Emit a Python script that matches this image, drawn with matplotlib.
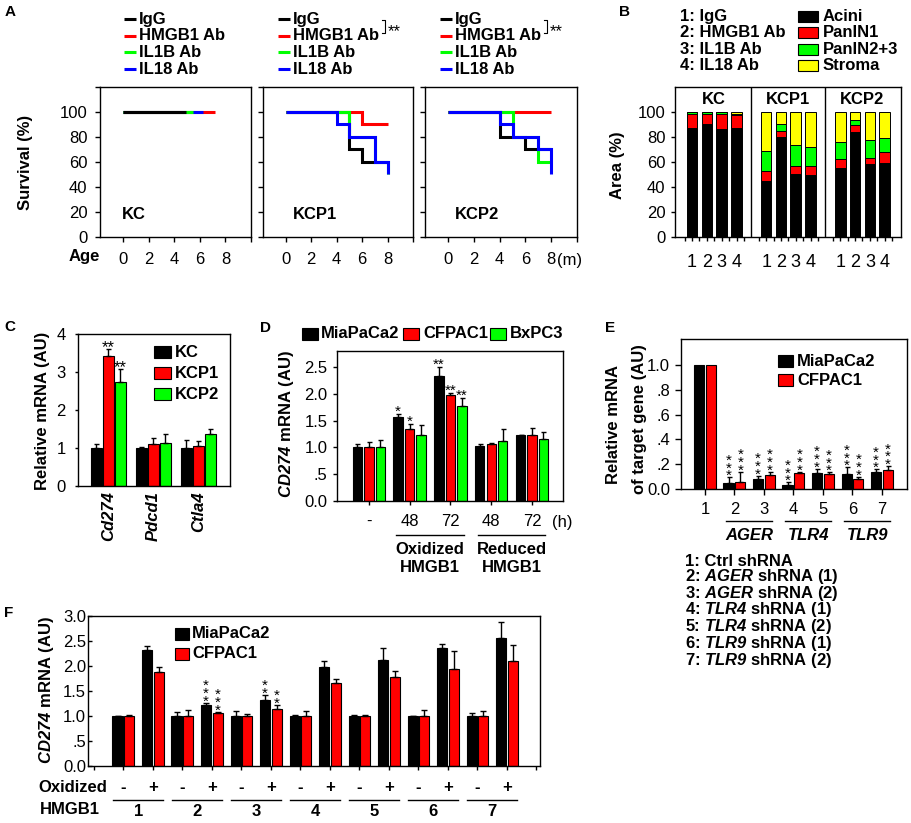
import numpy as np
import matplotlib
matplotlib.use('Agg')
import matplotlib.pyplot as plt
import matplotlib.transforms as mtransforms
from matplotlib.patches import Rectangle

plt.rcParams['font.family'] = ['Liberation Sans', 'DejaVu Sans']
plt.rcParams['font.size'] = 12
plt.rcParams['mathtext.fontset'] = 'custom'
plt.rcParams['mathtext.rm'] = 'Liberation Sans'
plt.rcParams['mathtext.it'] = 'Liberation Sans:italic'
plt.rcParams['mathtext.bf'] = 'Liberation Sans:bold'
plt.rcParams['mathtext.bfit'] = 'Liberation Sans:italic:bold'
plt.rcParams['axes.linewidth'] = 1.0

# ------------------------------------------------------------------ data
# Panel A : Kaplan-Meier steps (time of change, survival %)
surv_series = ['IgG', 'HMGB1 Ab', 'IL1B Ab', 'IL18 Ab']
surv_colors = ['#000000', '#FF0000', '#00FF00', '#0000FF']
age_ticks = [0, 2, 4, 6, 8]
kc_igg_t, kc_igg_s = [0, 4.9], [100, 100]
kc_hmgb1_t, kc_hmgb1_s = [0, 7.15], [100, 100]
kc_il1b_t, kc_il1b_s = [0, 5.45], [100, 100]
kc_il18_t, kc_il18_s = [0, 6.25], [100, 100]
kcp1_igg_t, kcp1_igg_s = [0, 5, 6, 8], [100, 70, 60, 60]
kcp1_hmgb1_t, kcp1_hmgb1_s = [0, 6, 8], [100, 90, 90]
kcp1_il1b_t, kcp1_il1b_s = [0, 5, 7, 8], [100, 80, 60, 50]
kcp1_il18_t, kcp1_il18_s = [0, 4, 5, 7, 8], [100, 90, 80, 60, 50]
kcp2_igg_t, kcp2_igg_s = [0, 4, 6, 8], [100, 80, 70, 70]
kcp2_hmgb1_t, kcp2_hmgb1_s = [0, 8], [100, 100]
kcp2_il1b_t, kcp2_il1b_s = [0, 5, 7, 8], [100, 80, 60, 60]
kcp2_il18_t, kcp2_il18_s = [0, 4, 5, 7, 8], [100, 90, 80, 70, 50]

# Panel B : area (%) stacked
b_groups = ['KC', 'KCP1', 'KCP2']
b_ticklabels = ['1', '2', '3', '4'] * 3
b_treat = ['1: IgG', '2: HMGB1 Ab', '3: IL1B Ab', '4: IL18 Ab']
b_comp = ['Acini', 'PanIN1', 'PanIN2+3', 'Stroma']
b_acini = [87.0, 90.4, 86.4, 87.2, 44.5, 79.7, 50.4, 49.3, 55.2, 84.0, 58.4, 59.2]
b_panin1 = [11.7, 8.0, 12.0, 10.1, 8.0, 5.3, 6.6, 7.7, 7.5, 5.9, 4.8, 8.8]
b_panin23 = [1.3, 1.6, 1.6, 1.4, 16.0, 5.4, 16.3, 15.0, 13.3, 3.4, 14.7, 11.2]
b_stroma = [0.0, 0.0, 0.0, 1.3, 31.5, 9.6, 26.7, 28.0, 24.0, 6.7, 22.1, 20.8]

# Panel C
c_genes = ['Cd274', 'Pdcd1', 'Ctla4']
c_series = ['KC', 'KCP1', 'KCP2']
c_kc = [1.0, 1.0, 1.0]
c_kc_err = [0.10, 0.03, 0.20]
c_kcp1 = [3.42, 1.10, 1.06]
c_kcp1_err = [0.18, 0.17, 0.13]
c_kcp2 = [2.74, 1.14, 1.36]
c_kcp2_err = [0.34, 0.22, 0.14]
c_kcp1_sig = ['**', '', '']
c_kcp2_sig = ['**', '', '']

# Panel D
d_labels = ['-', '48', '72', '48', '72']
d_series = ['MiaPaCa2', 'CFPAC1', 'BxPC3']
d_mia = [1.0, 1.57, 2.34, 1.03, 1.23]
d_mia_err = [0.06, 0.05, 0.17, 0.04, 0.01]
d_cfp = [1.0, 1.34, 1.98, 1.06, 1.23]
d_cfp_err = [0.10, 0.09, 0.03, 0.02, 0.13]
d_bxp = [1.0, 1.24, 1.78, 1.12, 1.16]
d_bxp_err = [0.13, 0.17, 0.15, 0.23, 0.12]
d_mia_sig = ['', '*', '**', '', '']
d_cfp_sig = ['', '*', '**', '', '']
d_bxp_sig = ['', '', '**', '', '']

# Panel E
e_labels = ['1', '2', '3', '4', '5', '6', '7']
e_mia = [1.0, 0.05, 0.08, 0.03, 0.13, 0.12, 0.14]
e_mia_err = [0.0, 0.045, 0.027, 0.024, 0.034, 0.055, 0.02]
e_cfp = [1.0, 0.06, 0.11, 0.13, 0.12, 0.08, 0.15]
e_cfp_err = [0.0, 0.08, 0.03, 0.01, 0.014, 0.02, 0.035]
e_mia_nstar = [0, 3, 3, 3, 3, 3, 3]
e_cfp_nstar = [0, 3, 3, 3, 3, 3, 3]
e_genes = ['AGER', 'TLR4', 'TLR9']
e_key = ['1: Ctrl shRNA', r'2: $\mathbfit{AGER}$ shRNA (1)', r'3: $\mathbfit{AGER}$ shRNA (2)',
         r'4: $\mathbfit{TLR4}$ shRNA (1)', r'5: $\mathbfit{TLR4}$ shRNA (2)',
         r'6: $\mathbfit{TLR9}$ shRNA (1)', r'7: $\mathbfit{TLR9}$ shRNA (2)']

# Panel F
f_labels = ['-', '+'] * 7
f_groups = ['1', '2', '3', '4', '5', '6', '7']
f_mia = [1.0, 2.33, 1.0, 1.23, 1.0, 1.33, 1.0, 1.98, 1.0, 2.13, 1.0, 2.36, 1.0, 2.56]
f_mia_err = [0.01, 0.07, 0.09, 0.03, 0.10, 0.09, 0.03, 0.13, 0.02, 0.24, 0.01, 0.09, 0.07, 0.32]
f_cfp = [1.0, 1.89, 1.0, 1.07, 1.0, 1.15, 1.0, 1.67, 1.0, 1.78, 1.0, 1.95, 1.0, 2.11]
f_cfp_err = [0.03, 0.10, 0.13, 0.02, 0.05, 0.08, 0.10, 0.07, 0.03, 0.12, 0.13, 0.35, 0.11, 0.32]
f_mia_nstar = [0, 0, 0, 3, 0, 2, 0, 0, 0, 0, 0, 0, 0, 0]
f_cfp_nstar = [0, 0, 0, 3, 0, 2, 0, 0, 0, 0, 0, 0, 0, 0]

BLACK, RED, GREEN, YELLOW = '#000000', '#FF0000', '#00FF00', '#FFFF00'

# ------------------------------------------------------------------ figure
W, H = 912, 823
fig = plt.figure(figsize=(W / 100, H / 100), dpi=100)
ov = fig.add_axes([0, 0, 1, 1])
ov.set_xlim(0, W)
ov.set_ylim(H, 0)
ov.axis('off')
ov.set_zorder(5)

FS = 12


def add_ax(x0, y0, x1, y1):
    ax = fig.add_axes([x0 / W, 1 - y1 / H, (x1 - x0) / W, (y1 - y0) / H])
    for s in ax.spines.values():
        s.set_linewidth(1.0)
    return ax


def otext(x, y, s, **kw):
    kw.setdefault('fontsize', FS)
    kw.setdefault('fontweight', 'bold')
    kw.setdefault('va', 'center')
    kw.setdefault('ha', 'left')
    ov.text(x, y, s, **kw)


def patch_key(x, ys, colors, labels, w=15, h=12, gap=4):
    for y, c, l in zip(ys, colors, labels):
        ov.add_patch(Rectangle((x, y - h / 2), w, h, facecolor=c, edgecolor='black', lw=0.8))
        otext(x + w + gap, y, l)


def errbars(ax, x, y, e, capsize=2.0):
    x = np.asarray(x, float); y = np.asarray(y, float); e = np.asarray(e, float)
    m = e > 0
    if m.any():
        ax.errorbar(x[m], y[m], yerr=[np.zeros(m.sum()), e[m]], fmt='none', ecolor='black',
                    elinewidth=1.0, capsize=capsize, capthick=1.0, zorder=3)


def star_text(ax, x, top, s, center_px=7, fs=FS):
    # asterisk string whose ink centre sits center_px above `top`
    em = fs * 100 / 72
    off_px = center_px - 0.58 * em
    ax.annotate(s, (x, top), xytext=(0, off_px * 0.72), textcoords='offset points',
                ha='center', va='baseline', fontsize=fs, annotation_clip=False)


def star_stack(ax, x, top, n, first_px=6, step_px=8.0, fs=11):
    # vertical stack of n asterisks as a single multi-line text
    em = fs * 100 / 72
    ls = (step_px - 0.21 * em) / (0.73 * em)
    off_px = first_px - 0.58 * em
    ax.annotate('\n'.join(['*'] * n), (x, top), xytext=(0, off_px * 0.72),
                textcoords='offset points', ha='center', va='baseline', fontsize=fs,
                linespacing=ls, multialignment='center', annotation_clip=False)


# panel letters
for lab, (x, y) in {'A': (10, 12), 'B': (625, 12), 'C': (10, 327), 'D': (266, 328),
                    'E': (610, 328), 'F': (9, 613)}.items():
    otext(x, y, lab, ha='center', fontsize=11)

# ------------------------------------------------------------------ Panel A
surv_panels = [
    ('KC', [(kc_igg_t, kc_igg_s), (kc_hmgb1_t, kc_hmgb1_s), (kc_il1b_t, kc_il1b_s), (kc_il18_t, kc_il18_s)],
     [1, 3, 2, 0], (100, 87, 251, 237), 0.146, 124),
    ('KCP1', [(kcp1_igg_t, kcp1_igg_s), (kcp1_hmgb1_t, kcp1_hmgb1_s), (kcp1_il1b_t, kcp1_il1b_s),
              (kcp1_il18_t, kcp1_il18_s)], [0, 1, 2, 3], (263, 87, 413, 237), 0.2, 278),
    ('KCP2', [(kcp2_igg_t, kcp2_igg_s), (kcp2_hmgb1_t, kcp2_hmgb1_s), (kcp2_il1b_t, kcp2_il1b_s),
              (kcp2_il18_t, kcp2_il18_s)], [0, 1, 2, 3], (425, 87, 577, 237), 0.197, 440),
]
for i, (name, curves, order, pos, tfrac, lx) in enumerate(surv_panels):
    ax = add_ax(*pos)
    for idx in order:
        t, s = curves[idx]
        ax.plot(t, s, drawstyle='steps-post', color=surv_colors[idx], lw=2.2,
                solid_capstyle='butt', solid_joinstyle='miter')
    ax.set_xlim(-1.8, 10)
    ax.set_ylim(0, 120)
    ax.set_xticks(age_ticks + [10], [str(a) for a in age_ticks] + [''])
    ax.set_yticks(range(0, 121, 20), [str(v) for v in range(0, 101, 20)] + [''])
    ax.tick_params(direction='out', length=3.6, width=1, labelsize=FS)
    ax.tick_params(axis='x', pad=7.5)
    ax.tick_params(axis='y', pad=5.5)
    if i > 0:
        ax.set_yticklabels([])
    ax.text(tfrac, 0.147, name, transform=ax.transAxes, fontweight='bold', fontsize=FS, va='center')
    # legend
    for r, (lab, col) in enumerate(zip(surv_series, surv_colors)):
        y = 19 + r * 16.7
        ov.plot([lx, lx + 12], [y, y], color=col, lw=2.2, solid_capstyle='butt')
        otext(lx + 15, y, lab)
    if i > 0:
        bx = lx + 107
        ov.plot([bx - 3, bx, bx, bx - 3], [20, 20, 33, 33], color='black', lw=0.8)
        otext(bx + 3, 36.5, '**', va='baseline', fontweight='normal')

otext(84, 257, 'Age', ha='center')
otext(570, 260, '(m)', ha='center', fontweight='normal')
otext(26, 162, 'Survival (%)', ha='center', rotation=90)

# ------------------------------------------------------------------ Panel B
axb = add_ax(675, 87, 901, 237)
b_pos = np.array([1, 2, 3, 4, 6, 7, 8, 9, 11, 12, 13, 14], float)
bottom = np.zeros(len(b_pos))
for vals, col in zip([b_acini, b_panin1, b_panin23, b_stroma], [BLACK, RED, GREEN, YELLOW]):
    vals = np.asarray(vals)
    axb.bar(b_pos, vals, width=0.72, bottom=bottom, color=col, edgecolor='black', lw=0.7)
    bottom = bottom + vals
for xv in (5, 10):
    axb.axvline(xv, color='black', lw=1.0)
for gx, g in zip([2.5, 7.5, 12.5], b_groups):
    axb.text(gx, 110, g, ha='center', va='center', fontweight='bold', fontsize=FS)
axb.set_xlim(-0.15, 15.1)
axb.set_ylim(0, 120)
axb.set_xticks(b_pos, b_ticklabels)
axb.set_xticks(np.arange(0.5, 15.0, 1.0), minor=True)
axb.set_yticks(range(0, 101, 20))
axb.tick_params(which='both', direction='out', length=3, width=1)
axb.tick_params(axis='x', labelsize=13, pad=9)
axb.tick_params(axis='y', labelsize=FS, pad=4)
for r, t in enumerate(b_treat):
    otext(680, 16 + r * 16.5, t)
patch_key(798, [16 + r * 16.5 for r in range(4)], [BLACK, RED, GREEN, YELLOW], b_comp, w=20, h=11, gap=5)
otext(618, 165, 'Area (%)', ha='center', rotation=90)

# ------------------------------------------------------------------ Panel C
axc = add_ax(78, 334, 230, 486)
xc = np.arange(len(c_genes))
for k, (vals, errs, sig, col) in enumerate([(c_kc, c_kc_err, None, BLACK),
                                            (c_kcp1, c_kcp1_err, c_kcp1_sig, RED),
                                            (c_kcp2, c_kcp2_err, c_kcp2_sig, GREEN)]):
    x = xc + (k - 1) * 0.267
    axc.bar(x, vals, 0.24, color=col, edgecolor='black', lw=0.8)
    errbars(axc, x, vals, errs, capsize=1.8)
    if sig:
        for xi, v, e, s in zip(x, vals, errs, sig):
            if s:
                star_text(axc, xi, v + e, s, center_px=7)
axc.set_xlim(-0.67, 2.7)
axc.set_ylim(0, 4)
axc.set_yticks(range(0, 5))
axc.set_xticks(xc, c_genes, rotation=90, fontstyle='italic', fontweight='bold')
axc.tick_params(axis='x', length=0, pad=4, labelsize=FS)
axc.tick_params(axis='y', direction='out', length=2.2, width=1, pad=6.5, labelsize=FS)
patch_key(154, [352, 373, 394], [BLACK, RED, GREEN], c_series, w=17, h=12, gap=4)
otext(43, 411, 'Relative mRNA (AU)', ha='center', rotation=90)

# ------------------------------------------------------------------ Panel D
axd = add_ax(337, 351, 563, 501)
xd = np.arange(len(d_labels))
for k, (vals, errs, sig, col) in enumerate([(d_mia, d_mia_err, d_mia_sig, BLACK),
                                            (d_cfp, d_cfp_err, d_cfp_sig, RED),
                                            (d_bxp, d_bxp_err, d_bxp_sig, GREEN)]):
    x = xd + (k - 1) * 0.28
    axd.bar(x, vals, 0.23, color=col, edgecolor='black', lw=0.8)
    errbars(axd, x, vals, errs, capsize=1.8)
    for xi, v, e, s in zip(x, vals, errs, sig):
        if s:
            star_text(axd, xi, v + e, s, center_px=7, fs=11)
axd.set_xlim(-0.78, 4.76)
axd.set_ylim(0, 2.8)
axd.set_yticks([0, 0.5, 1.0, 1.5, 2.0, 2.5], ['0.0', '.5', '1.0', '1.5', '2.0', '2.5'])
axd.set_xticks(xd, d_labels)
axd.tick_params(direction='out', length=3, width=1, labelsize=FS)
axd.tick_params(axis='x', pad=6.5)
axd.tick_params(axis='y', pad=4)
blend_d = mtransforms.blended_transform_factory(axd.transData, ov.transData)
for cx, word in [(1.5, 'Oxidized'), (3.5, 'Reduced')]:
    axd.plot([cx - 0.83, cx + 0.83], [535, 535], color='black', lw=1.0, transform=blend_d, clip_on=False)
    axd.text(cx, 549, word, transform=blend_d, ha='center', va='center', fontweight='bold', fontsize=FS)
    axd.text(cx, 567, 'HMGB1', transform=blend_d, ha='center', va='center', fontweight='bold', fontsize=FS)
otext(562, 522, '(h)', ha='center', fontweight='normal')
for px, tx, col, lab in [(302, 321, BLACK, d_series[0]), (403, 423, RED, d_series[1]),
                         (490, 510, GREEN, d_series[2])]:
    ov.add_patch(Rectangle((px, 327.5), 16, 12, facecolor=col, edgecolor='black', lw=0.8))
    otext(tx, 333.5, lab)
otext(287, 424, r'$\mathbfit{CD274}$ mRNA (AU)', ha='center', rotation=90)

# ------------------------------------------------------------------ Panel E
axe = add_ax(681, 339, 907, 489)
xe = np.arange(1, len(e_labels) + 1)
for k, (vals, errs, nst, col) in enumerate([(e_mia, e_mia_err, e_mia_nstar, BLACK),
                                            (e_cfp, e_cfp_err, e_cfp_nstar, RED)]):
    x = xe + (k - 0.5) * 0.4
    axe.bar(x, vals, 0.34, color=col, edgecolor='black', lw=0.8)
    errbars(axe, x, vals, errs, capsize=1.8)
    for xi, v, e, n in zip(x, vals, errs, nst):
        if n:
            star_stack(axe, xi, v + e, n, first_px=6, step_px=8)
axe.set_xlim(0.19, 7.85)
axe.set_ylim(0, 1.21)
axe.set_yticks([0, 0.2, 0.4, 0.6, 0.8, 1.0], ['0.0', '.2', '.4', '.6', '.8', '1.0'])
axe.set_xticks(xe, e_labels)
axe.tick_params(direction='out', length=4.3, width=1, labelsize=FS)
axe.tick_params(axis='x', pad=5)
axe.tick_params(axis='y', pad=3.5)
blend_e = mtransforms.blended_transform_factory(axe.transData, ov.transData)
for cx, g in zip([2.5, 4.5, 6.5], e_genes):
    axe.plot([cx - 0.78, cx + 0.78], [521, 521], color='black', lw=1.0, transform=blend_e, clip_on=False)
    axe.text(cx, 535, g, transform=blend_e, ha='center', va='center', fontweight='bold',
             fontstyle='italic', fontsize=FS)
patch_key(778, [361, 380], [BLACK, RED], d_series[:2], w=15, h=12, gap=4)
otext(685, 554, '\n'.join(e_key), va='top', linespacing=0.84)
otext(614, 424, 'Relative mRNA', ha='center', rotation=90)
otext(640, 419, 'of target gene (AU)', ha='center', rotation=90)

# ------------------------------------------------------------------ Panel F
axf = add_ax(88, 616, 540, 766)
xf = np.arange(1, len(f_labels) + 1)
for k, (vals, errs, nst, col) in enumerate([(f_mia, f_mia_err, f_mia_nstar, BLACK),
                                            (f_cfp, f_cfp_err, f_cfp_nstar, RED)]):
    x = xf + (k - 0.5) * 0.4
    axf.bar(x, vals, 0.34, color=col, edgecolor='black', lw=0.8)
    errbars(axf, x, vals, errs, capsize=2.2)
    for xi, v, e, n in zip(x, vals, errs, nst):
        if n:
            star_stack(axf, xi, v + e, n, first_px=6, step_px=8.3)
axf.set_xlim(-0.2, 15.12)
axf.set_ylim(0, 3.0)
axf.set_yticks(np.arange(0, 3.01, 0.5), ['0.0', '.5', '1.0', '1.5', '2.0', '2.5', '3.0'])
axf.set_xticks(np.arange(0, 16), [''] + f_labels + [''])
axf.tick_params(axis='x', direction='out', length=3, width=1, pad=7, labelsize=FS)
for tl in axf.get_xticklabels():
    tl.set_fontweight('bold')
axf.tick_params(axis='y', direction='in', length=3, width=1, pad=1.5, labelsize=FS)
blend_f = mtransforms.blended_transform_factory(axf.transData, ov.transData)
for gi, g in enumerate(f_groups):
    cx = 2 * gi + 1.5
    axf.plot([cx - 0.85, cx + 0.85], [799.5, 799.5], color='black', lw=1.0, transform=blend_f, clip_on=False)
    axf.text(cx, 812, g, transform=blend_f, ha='center', va='center', fontweight='bold', fontsize=FS)
otext(73, 787, 'Oxidized', ha='center')
otext(70, 810, 'HMGB1', ha='center')
patch_key(175, [634, 654], [BLACK, RED], d_series[:2], w=14, h=12, gap=3)
otext(47, 690, r'$\mathbfit{CD274}$ mRNA (AU)', ha='center', rotation=90)

fig.savefig('out.png', dpi=100)
